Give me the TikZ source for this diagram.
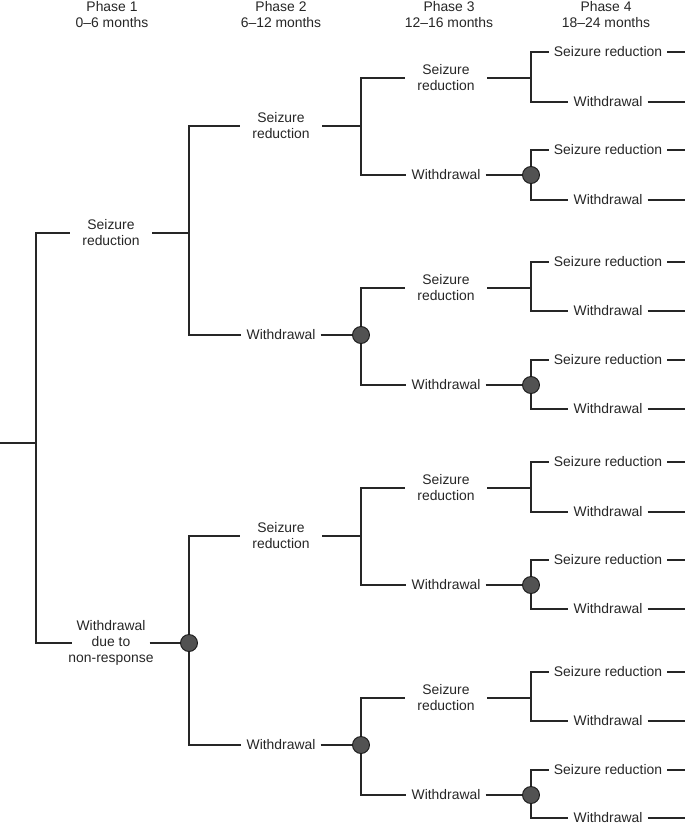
\documentclass[tikz,border=0pt]{standalone}
\usepackage{fontspec}
\setmainfont{Liberation Sans}
\tikzset{
  lbl/.style={align=center,inner xsep=5pt,inner ysep=2pt,text=black!85,font={\fontsize{13.9}{16}\selectfont}},
  twoline/.style={lbl,minimum width=82pt},
  head/.style={align=center,inner sep=0pt,text=black!85,font={\fontsize{13.9}{16}\selectfont}},
  dot/.style={circle,draw=black!90,fill=black!68,line width=0.9pt,inner sep=0pt,minimum size=17pt},
  branch/.style={line width=1.3pt,draw=black!85}
}
\begin{document}
\begin{tikzpicture}[x=1pt,y=-1pt]
  \useasboundingbox (0,0) rectangle (685,825);
  % phase headings
  \foreach \x/\k/\t in {112/1/0–6,281/2/6–12,449/3/12–16,606/4/18–24}
    \node[head] (h\k) at (\x,14.5) {Phase \k\\\t{} months};

  % phase 1
  \coordinate (root) at (0,443);
  \coordinate (j) at (36,443);
  \coordinate (edge) at (685,0);
  \node[twoline] (n1) at (111,233) {Seizure\\reduction};
  \node[lbl,inner xsep=-4pt] (n2) at (111,643) {Withdrawal\\due to\\non-response};
  \coordinate (j1) at (189,233);
  \coordinate (j2) at (189,643);

  % phase 2
  \foreach \y/\n in {126/11,536/21} {
    \node[twoline] (n\n) at (281,\y) {Seizure\\reduction};
    \coordinate (j\n) at (361,\y);
  }
  \foreach \y/\n in {335/12,745/22} {
    \node[lbl] (n\n) at (281,\y) {Withdrawal};
    \coordinate (j\n) at (361,\y);
  }

  % phase 3
  \foreach \y/\n in {78/111,288/121,488/211,698/221} {
    \node[twoline] (n\n) at (446,\y) {Seizure\\reduction};
    \coordinate (j\n) at (531,\y);
  }
  \foreach \y/\n in {175/112,385/122,585/212,795/222} {
    \node[lbl] (n\n) at (446,\y) {Withdrawal};
    \coordinate (j\n) at (531,\y);
  }

  % phase 4
  \foreach \y/\n in {52/1111,150/1121,262/1211,360/1221,462/2111,560/2121,672/2211,770/2221}
    \node[lbl] (n\n) at (608,\y) {Seizure reduction};
  \foreach \y/\n in {102/1112,200/1122,311/1212,409/1222,512/2112,609/2122,721/2212,818/2222}
    \node[lbl] (n\n) at (608,\y) {Withdrawal};

  % branches
  \draw[branch] (root) -- (j);
  \draw[branch] (n1.west) -| (j) |- (n2.west);
  \foreach \p in {1,2,11,12,21,22,111,112,121,122,211,212,221,222} {
    \draw[branch] (n\p.east) -- (j\p);
    \draw[branch] (n\p1.west) -| (j\p) |- (n\p2.west);
  }
  \foreach \p in {1111,1112,1121,1122,1211,1212,1221,1222,2111,2112,2121,2122,2211,2212,2221,2222}
    \draw[branch] (n\p.east) -- (n\p.east -| edge);

  % chance points after withdrawal
  \foreach \p in {2,12,22,112,122,212,222}
    \node[dot] (d\p) at (j\p) {};
\end{tikzpicture}
\end{document}
